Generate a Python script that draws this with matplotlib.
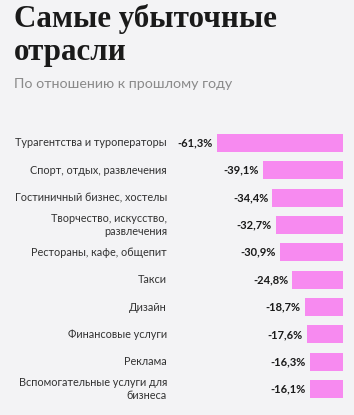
import matplotlib
matplotlib.use("Agg")
import matplotlib.pyplot as plt
from matplotlib.transforms import blended_transform_factory, offset_copy

categories = [
    "Турагентства и туроператоры",
    "Спорт, отдых, развлечения",
    "Гостиничный бизнес, хостелы",
    "Творчество, искусство,\nразвлечения",
    "Рестораны, кафе, общепит",
    "Такси",
    "Дизайн",
    "Финансовые услуги",
    "Реклама",
    "Вспомогательные услуги для\nбизнеса",
]
values = [-61.3, -39.1, -34.4, -32.7, -30.9, -24.8, -18.7, -17.6, -16.3, -16.1]
value_labels = ["-61,3%", "-39,1%", "-34,4%", "-32,7%", "-30,9%",
                "-24,8%", "-18,7%", "-17,6%", "-16,3%", "-16,1%"]

title_lines = ["Самые убыточные", "отрасли"]
subtitle = "По отношению к прошлому году"

W, H = 354, 415
bg = "#f3f3f5"
bar_color = "#f78af0"

fig = plt.figure(figsize=(W / 100, H / 100), dpi=100, facecolor=bg)

# axes placement in pixels
x_right = 343
px_per_unit = 2.055
xmin = -65
x_left = x_right + xmin * px_per_unit
y_top = 129.3
y_bot = 402.7
ax = fig.add_axes([x_left / W, 1 - y_bot / H, (x_right - x_left) / W, (y_bot - y_top) / H])
ax.set_facecolor(bg)
ax.set_xlim(xmin, 0)
n = len(categories)
ax.set_ylim(n - 0.5, -0.5)
ax.axis("off")

ypos = list(range(n))
ax.barh(ypos, [-v for v in values], left=values, height=0.66, color=bar_color)

sans = ["Lato", "DejaVu Sans"]
val_tr = offset_copy(ax.transData, fig=fig, x=-4, y=0, units="dots")
lab_tr = blended_transform_factory(fig.transFigure, ax.transData)
for i, (v, vl, c) in enumerate(zip(values, value_labels, categories)):
    ax.text(v, i, vl, transform=val_tr, ha="right", va="center",
            fontsize=8, fontweight="bold", color="#1a1a1a", family=sans)
    ax.text(167 / W, i, c, transform=lab_tr, ha="right", va="center",
            fontsize=7.8, color="#333333", family=sans, linespacing=1.3)

for k, line in enumerate(title_lines):
    fig.text(14 / W, 1 - (27 + 33 * k) / H, line, ha="left", va="baseline",
             fontsize=22.3, fontweight="bold", color="#1a1a1a",
             family=["Liberation Serif", "DejaVu Serif"])
fig.text(14 / W, 1 - 88 / H, subtitle, ha="left", va="baseline",
         fontsize=10.3, color="#8a8a8a", family=sans)

fig.savefig("out.png", dpi=100, facecolor=bg)
